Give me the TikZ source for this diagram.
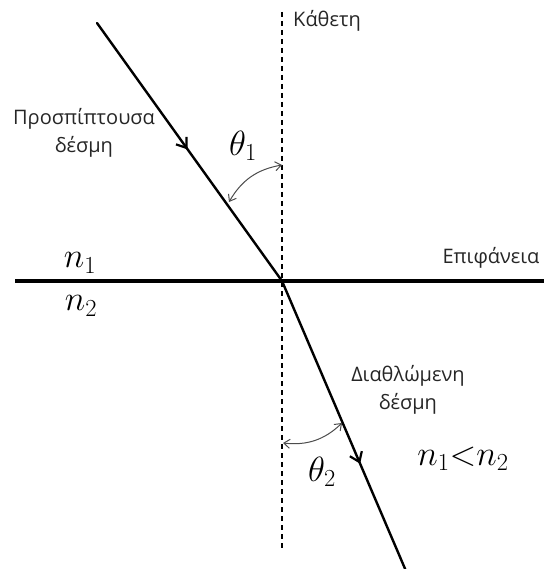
\documentclass[tikz,border=0pt]{standalone}
\usepackage{fix-cm}
\usepackage{fontspec}
\setmainfont{Open Sans}
\usetikzlibrary{arrows.meta,decorations.markings}
\begin{document}
\begin{tikzpicture}[x=1pt,y=-1pt,
  ray/.style={line width=2.4pt, line cap=round},
  lbl/.style={text=black!85, font=\fontsize{20}{28}\selectfont, align=center, inner sep=0pt},
  mlbl/.style={font=\fontsize{35}{40}\selectfont, inner sep=0pt},
  angarc/.style={black!70, line width=1pt, {Straight Barb[length=6pt,width=9pt]}-{Straight Barb[length=6pt,width=9pt]}},
  midarrow/.style={postaction={decorate, decoration={markings, mark=at position #1 with {\arrow{Straight Barb[length=9pt,width=13pt,line width=2.2pt]}}}}}
]
\useasboundingbox (0,0) rectangle (543,569);
\coordinate (O) at (282,281);
\coordinate (A) at (97,23);
\coordinate (B) at (406,571);
\coordinate (NT) at (282,12);
\coordinate (NB) at (282,548);
\coordinate (SL) at (15,281);
\coordinate (SR) at (545,281);
\coordinate (a1s) at (229,202);
\coordinate (a1e) at (282,165);
\coordinate (a2s) at (283,443);
\coordinate (a2e) at (342,423);
% normal
\draw[line width=1.1pt, dash pattern=on 5pt off 4pt] (NT) -- (NB);
% surface
\draw[line width=4.5pt] (SL) -- (SR);
% rays
\draw[ray, midarrow=0.49] (A) -- (O);
\draw[ray, midarrow=0.63] (O) -- (B);
% angle arcs
\draw[angarc] (a1s) to[bend left=25] (a1e);
\draw[angarc] (a2s) to[bend right=25] (a2e);
% labels
\node[lbl] (kath) at (327,21) {Κάθετη};
\node[lbl] (epif) at (491,258) {Επιφάνεια};
\node[lbl] (pros) at (84,133) {Προσπίπτουσα\\δέσμη};
\node[lbl] (diath) at (408,390) {Διαθλώμενη\\δέσμη};
\node[mlbl] (n1) at (80,263) {$n_1$};
\node[mlbl] (n2) at (81,306) {$n_2$};
\node[mlbl] (th1) at (243,146) {$\theta_1$};
\node[mlbl] (th2) at (322,472) {$\theta_2$};
\node[mlbl] (ineq) at (463,459) {$n_1{<}n_2$};
\end{tikzpicture}
\end{document}
